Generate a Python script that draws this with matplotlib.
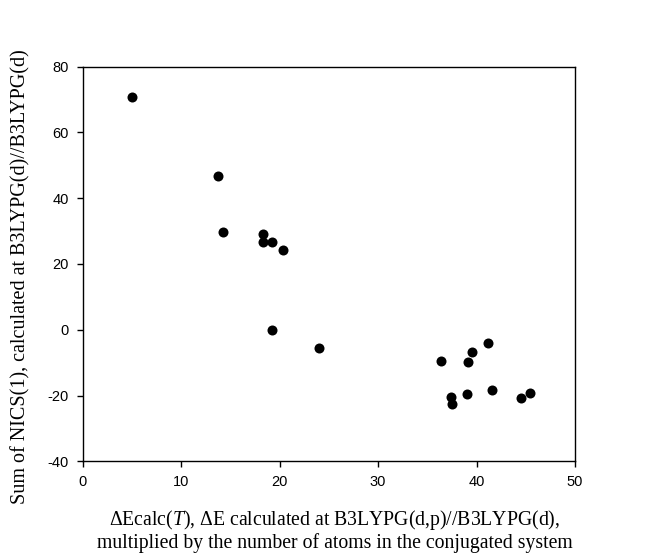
import matplotlib
matplotlib.use("Agg")
import matplotlib.pyplot as plt

# Data
x_vals = [5.0, 13.7, 14.2, 18.3, 18.3, 19.2, 20.3, 19.2, 24.0,
          36.4, 39.5, 39.1, 41.2, 37.4, 37.5, 39.0, 41.55, 44.5, 45.45]
y_vals = [70.9, 46.7, 29.7, 29.0, 26.8, 26.6, 24.3, -0.1, -5.6,
          -9.5, -6.8, -9.8, -4.1, -20.5, -22.6, -19.6, -18.4, -20.9, -19.2]
x_ticks = [0, 10, 20, 30, 40, 50]
y_ticks = [-40, -20, 0, 20, 40, 60, 80]

plt.rcParams['mathtext.fontset'] = 'custom'
plt.rcParams['mathtext.rm'] = 'Liberation Serif'
plt.rcParams['mathtext.it'] = 'Liberation Serif:italic'
plt.rcParams['axes.unicode_minus'] = False

fig = plt.figure(figsize=(6.53, 5.57), dpi=100)
ax = fig.add_axes([0.1266, 0.1718, 0.8806 - 0.1266, 0.8803 - 0.1718])

ax.scatter(x_vals, y_vals, s=52, color='black', zorder=3, linewidths=0)

ax.set_xlim(0, 50)
ax.set_ylim(-40, 80)
ax.set_xticks(x_ticks)
ax.set_yticks(y_ticks)
ax.tick_params(direction='out', length=4, width=1, labelsize=10.5, pad=6,
               top=False, right=False)
for lab in ax.get_xticklabels() + ax.get_yticklabels():
    lab.set_fontfamily('Liberation Sans')
for sp in ax.spines.values():
    sp.set_linewidth(1.0)

ax.set_xlabel("\u0394Ecalc($\\it{T}$), \u0394E calculated at B3LYPG(d,p)//B3LYPG(d),\n"
              "multiplied by the number of atoms in the conjugated system",
              fontfamily='Liberation Serif', fontsize=14.2, linespacing=1.05)
ax.xaxis.set_label_coords(0.512, -0.118)
ax.xaxis.label.set_verticalalignment('top')
ax.set_ylabel("Sum of NICS(1), calculated at B3LYPG(d)//B3LYPG(d)",
              fontfamily='Liberation Serif', fontsize=14.5)
ax.yaxis.set_label_coords(-0.107, 0.467)

fig.savefig("out.png", dpi=100)
